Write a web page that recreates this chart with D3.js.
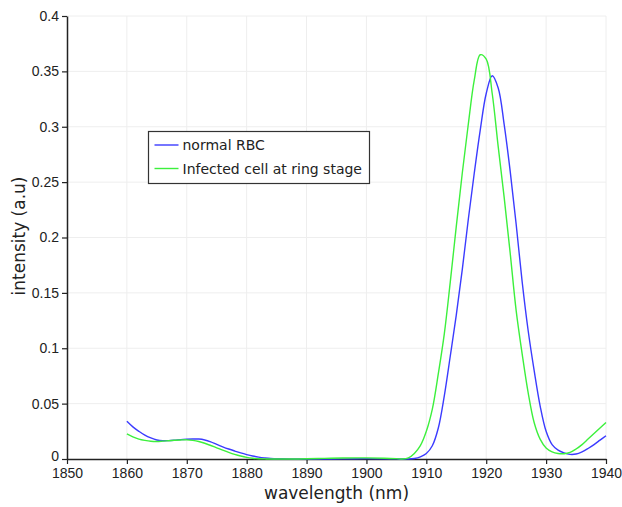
<!DOCTYPE html>
<html>
<head>
<meta charset="utf-8">
<script src="https://cdn.jsdelivr.net/npm/d3@7"></script>
<style>
  body { margin: 0; background: #fff; }
  svg { display: block; }
</style>
</head>
<body>
<div id="chart"></div>
<script>
// wavelength (nm) sample points shared by both series
const wavelengths = [
  1860, 1861, 1862, 1863, 1864, 1865, 1866, 1867, 1868, 1869,
  1870, 1871, 1872, 1873, 1874, 1875, 1876, 1877, 1878, 1879,
  1880, 1881, 1882, 1883, 1884,
  1886, 1888, 1890, 1893, 1896, 1900, 1903, 1905,
  1906, 1907, 1908, 1909, 1910, 1911, 1912, 1913, 1914, 1915,
  1916, 1917, 1918, 1919, 1920, 1921, 1922, 1923, 1924, 1925,
  1926, 1927, 1928, 1929, 1930, 1931, 1932, 1933, 1934, 1935,
  1936, 1937, 1938, 1939, 1940
];

const normalRBC = [
  0.034, 0.029, 0.025, 0.0215, 0.019, 0.0172, 0.0165, 0.0166, 0.017, 0.0175,
  0.0178, 0.018, 0.018, 0.0172, 0.0155, 0.0132, 0.011, 0.009, 0.0072, 0.0055,
  0.004, 0.0027, 0.0017, 0.001, 0.0005,
  0.0002, 0, 0, 0, 0.0001, 0.0003, 0.0002, 0.0001,
  0, 0, 0.0005, 0.002, 0.005, 0.012, 0.028, 0.057, 0.093, 0.13,
  0.171, 0.216, 0.258, 0.297, 0.33, 0.346, 0.335, 0.302, 0.26, 0.212,
  0.16, 0.116, 0.08, 0.048, 0.025, 0.013, 0.008, 0.0055, 0.0042, 0.0045,
  0.0065, 0.0095, 0.013, 0.017, 0.021
];

const infectedRing = [
  0.0226, 0.02, 0.018, 0.0168, 0.016, 0.0158, 0.0161, 0.0165, 0.0169, 0.0172,
  0.0173, 0.0168, 0.0158, 0.0142, 0.0122, 0.0101, 0.008, 0.006, 0.0042, 0.0027,
  0.0015, 0.0007, 0.0002, 0.0001, 0,
  0, 0, 0.0002, 0.0006, 0.0009, 0.001, 0.0007, 0.0003,
  0, 0.001, 0.005, 0.012, 0.025, 0.045, 0.077, 0.113, 0.16, 0.21,
  0.258, 0.302, 0.342, 0.365, 0.361, 0.33, 0.282, 0.236, 0.186, 0.134,
  0.095, 0.06, 0.033, 0.018, 0.01, 0.0065, 0.005, 0.0048, 0.006, 0.009,
  0.013, 0.018, 0.023, 0.028, 0.033
];

const xTicks = [1850, 1860, 1870, 1880, 1890, 1900, 1910, 1920, 1930, 1940];
const yTicks = [0, 0.05, 0.1, 0.15, 0.2, 0.25, 0.3, 0.35, 0.4];

const seriesNames = ['normal RBC', 'Infected cell at ring stage'];
const seriesColors = ['#3b3bff', '#3cf03c'];

var margin = {top: 16, right: 16, bottom: 48, left: 67},
    W = 622, H = 507,
    width = W - margin.left - margin.right,
    height = H - margin.top - margin.bottom;

var svg = d3.select('#chart').append('svg')
    .attr('width', W)
    .attr('height', H);

var g = svg.append('g')
    .attr('transform', 'translate(' + margin.left + ',' + margin.top + ')');

var x = d3.scaleLinear().domain([1850, 1940]).range([0, width]);
var y = d3.scaleLinear().domain([0, 0.4]).range([height, 0]);

// light grid
g.append('g').selectAll('line.vg')
    .data(xTicks.slice(1)).enter().append('line')
    .attr('x1', d => x(d)).attr('x2', d => x(d))
    .attr('y1', 0).attr('y2', height)
    .attr('stroke', '#eeeeee').attr('stroke-width', 1);
g.append('g').selectAll('line.hg')
    .data(yTicks.slice(1)).enter().append('line')
    .attr('x1', 0).attr('x2', width)
    .attr('y1', d => y(d)).attr('y2', d => y(d))
    .attr('stroke', '#eeeeee').attr('stroke-width', 1);

// axes
var xAxis = g.append('g')
    .attr('transform', 'translate(0,' + height + ')')
    .call(d3.axisBottom(x).tickValues(xTicks).tickFormat(d3.format('d')).tickSize(5).tickPadding(4).tickSizeOuter(0));
var yAxis = g.append('g')
    .call(d3.axisLeft(y).tickValues(yTicks).tickFormat(d => String(+d.toFixed(2))).tickSize(5).tickPadding(3).tickSizeOuter(0));

[xAxis, yAxis].forEach(function(a) {
  a.select('.domain').attr('stroke', '#222').attr('stroke-width', 1.5);
  a.selectAll('.tick line').attr('stroke', '#222').attr('stroke-width', 1.2);
  a.selectAll('.tick text')
    .attr('fill', '#222')
    .style('font-family', '"Liberation Sans", Arial, sans-serif')
    .style('font-size', '14px');
});
// lift the zero label a little so it clears the 1850 label
yAxis.selectAll('.tick text').filter(d => d === 0).attr('dy', '0.1em');

// curves
var series = [normalRBC, infectedRing];
var line = d3.line()
    .x(d => x(d[0]))
    .y(d => y(d[1]))
    .curve(d3.curveCatmullRom.alpha(0.5));

series.forEach(function(vals, i) {
  g.append('path')
    .datum(wavelengths.map((w, j) => [w, vals[j]]))
    .attr('fill', 'none')
    .attr('stroke', seriesColors[i])
    .attr('stroke-width', 1.4)
    .attr('d', line);
});

// axis titles
svg.append('text')
    .attr('x', margin.left + width / 2)
    .attr('y', 499)
    .attr('text-anchor', 'middle')
    .style('font-family', '"DejaVu Sans", sans-serif')
    .style('font-size', '17px')
    .attr('fill', '#222')
    .text('wavelength (nm)');

svg.append('text')
    .attr('transform', 'translate(25,236) rotate(-90)')
    .attr('text-anchor', 'middle')
    .style('font-family', '"DejaVu Sans", sans-serif')
    .style('font-size', '17px')
    .attr('fill', '#222')
    .text('intensity (a.u)');

// legend
var leg = svg.append('g').attr('transform', 'translate(148.5,131.5)');
leg.append('rect')
    .attr('width', 221).attr('height', 52)
    .attr('fill', '#fff')
    .attr('stroke', '#333').attr('stroke-width', 1.2);

seriesNames.forEach(function(name, i) {
  var row = leg.append('g').attr('transform', 'translate(0,' + (13.5 + i * 23.5) + ')');
  row.append('line')
    .attr('x1', 6).attr('x2', 30)
    .attr('stroke', seriesColors[i]).attr('stroke-width', 1.4);
  row.append('text')
    .attr('x', 34).attr('y', 5)
    .style('font-family', '"DejaVu Sans", sans-serif')
    .style('font-size', '14px')
    .attr('fill', '#222')
    .text(name);
});
</script>
</body>
</html>
